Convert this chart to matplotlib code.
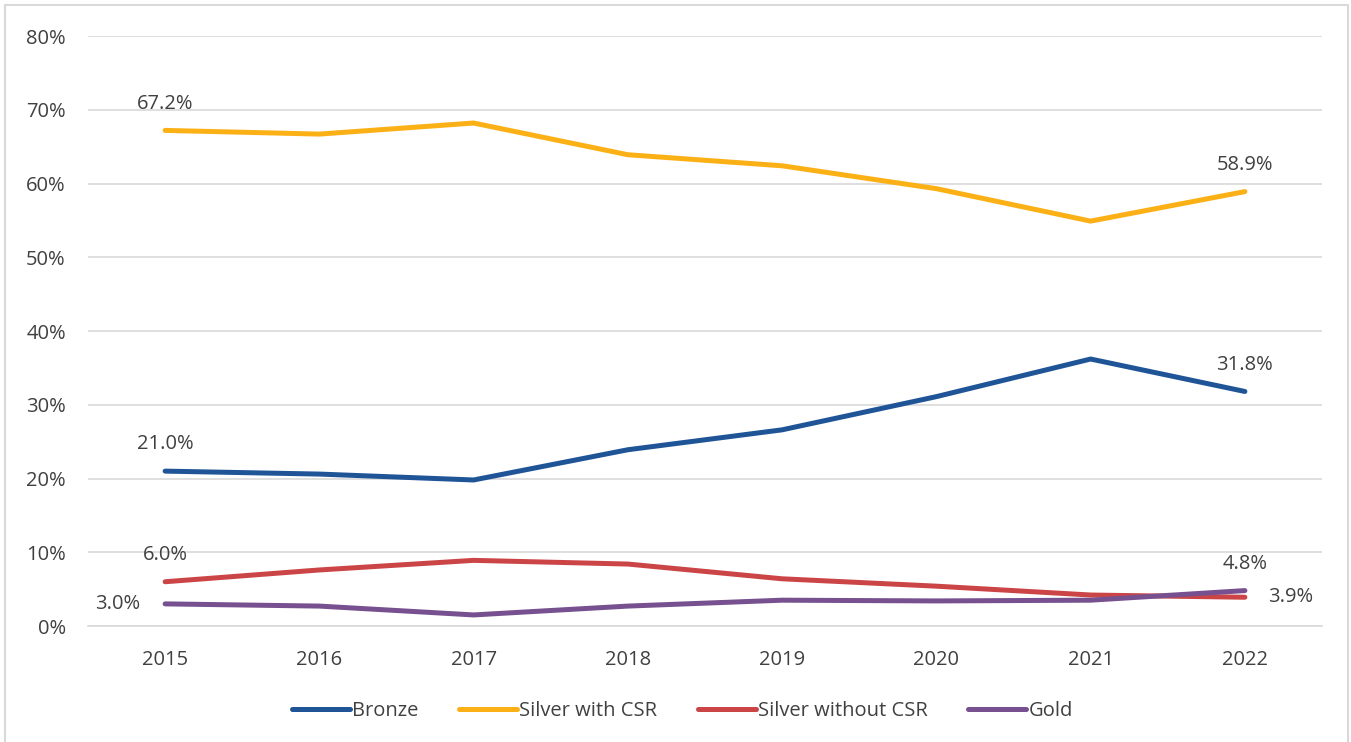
import matplotlib.pyplot as plt
from matplotlib.patches import Rectangle

years = ["2015", "2016", "2017", "2018", "2019", "2020", "2021", "2022"]
bronze = [21.0, 20.6, 19.8, 23.9, 26.6, 31.1, 36.2, 31.8]
silver_csr = [67.2, 66.7, 68.2, 63.9, 62.4, 59.3, 54.9, 58.9]
silver_no_csr = [6.0, 7.6, 8.9, 8.4, 6.4, 5.4, 4.2, 3.9]
gold = [3.0, 2.7, 1.5, 2.7, 3.5, 3.4, 3.5, 4.8]

series = [
    ("Bronze", bronze, "#1F5597"),
    ("Silver with CSR", silver_csr, "#FBB016"),
    ("Silver without CSR", silver_no_csr, "#CB4547"),
    ("Gold", gold, "#77508F"),
]

plt.rcParams['font.family'] = ['Open Sans', 'DejaVu Sans']
txt = "#404040"
fs = 14.5

fig = plt.figure(figsize=(13.51, 7.42), dpi=100)
ax = fig.add_axes([88 / 1351, 1 - 626 / 742, (1322 - 88) / 1351, (626 - 36) / 742])
fig.patches.append(Rectangle((5 / 1351, -0.01), 1343 / 1351, 1 - 5 / 742 + 0.01,
                             transform=fig.transFigure, fill=False,
                             edgecolor="#D9D9D9", linewidth=1.5))

x = range(len(years))
for name, vals, col in series:
    ax.plot(x, vals, color=col, linewidth=3.6, label=name, solid_capstyle="round")

# end labels
lab = dict(fontsize=fs, color=txt)
up = 12
ax.annotate(f"{silver_csr[0]:.1f}%", (0, silver_csr[0]), xytext=(0, up), textcoords="offset points", ha="center", va="bottom", **lab)
ax.annotate(f"{bronze[0]:.1f}%", (0, bronze[0]), xytext=(0, up), textcoords="offset points", ha="center", va="bottom", **lab)
ax.annotate(f"{silver_no_csr[0]:.1f}%", (0, silver_no_csr[0]), xytext=(0, up), textcoords="offset points", ha="center", va="bottom", **lab)
ax.annotate(f"{gold[0]:.1f}%", (0, gold[0]), xytext=(-18, 0), textcoords="offset points", ha="right", va="center", **lab)
ax.annotate(f"{silver_csr[-1]:.1f}%", (7, silver_csr[-1]), xytext=(0, up), textcoords="offset points", ha="center", va="bottom", **lab)
ax.annotate(f"{bronze[-1]:.1f}%", (7, bronze[-1]), xytext=(0, up), textcoords="offset points", ha="center", va="bottom", **lab)
ax.annotate(f"{gold[-1]:.1f}%", (7, gold[-1]), xytext=(0, up), textcoords="offset points", ha="center", va="bottom", **lab)
ax.annotate(f"{silver_no_csr[-1]:.1f}%", (7, silver_no_csr[-1]), xytext=(17, 0), textcoords="offset points", ha="left", va="center", **lab)

ax.set_xlim(-0.5, 7.5)
ax.set_ylim(0, 80)
ax.set_xticks(list(x))
ax.set_xticklabels(years)
ax.set_yticks(range(0, 81, 10))
ax.set_yticklabels([f"{v}%" for v in range(0, 81, 10)])
ax.tick_params(length=0, labelsize=fs, colors=txt)
ax.tick_params(axis="y", pad=16)
ax.tick_params(axis="x", pad=17)
ax.grid(axis="y", color="#D9D9D9", linewidth=1.2)
ax.set_axisbelow(True)
for s in ax.spines.values():
    s.set_visible(False)
ax.spines["bottom"].set_visible(True)
ax.spines["bottom"].set_color("#D9D9D9")
ax.spines["bottom"].set_linewidth(1.2)

leg = fig.legend(loc="center", bbox_to_anchor=(0.505, 1 - 711 / 742), ncol=4, frameon=False,
                 fontsize=fs, handlelength=2.9, handletextpad=0.1, columnspacing=2.0)
for t in leg.get_texts():
    t.set_color(txt)

fig.savefig("out.png", dpi=100)
